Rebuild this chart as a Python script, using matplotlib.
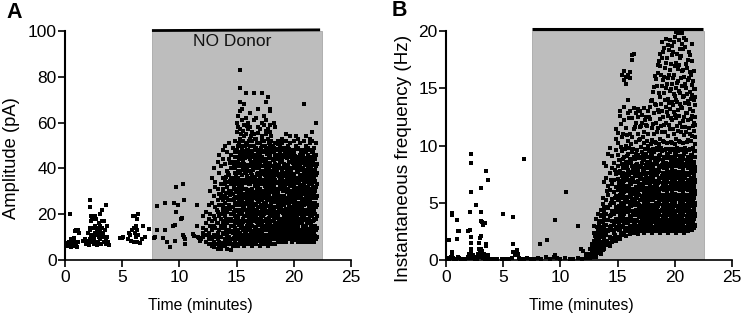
import matplotlib
matplotlib.use('Agg')
import matplotlib.pyplot as plt

plt.rcParams['font.family'] = ['Liberation Sans', 'DejaVu Sans']

# panel A, sparse part before the burst
amp_early_t = [0.1,0.2,0.25,0.3,0.35,0.4,0.45,0.5,0.55,0.6,0.65,0.7,0.75,0.8,0.85,0.9,0.95,1.0,1.05,1.1,1.15,1.25,0.45,
               1.6,1.75,1.85,1.9,2.0,2.05,2.1,2.15,2.2,2.2,2.25,2.3,2.35,2.4,2.45,2.5,2.55,2.55,2.6,2.65,2.65,2.7,2.75,2.8,2.8,2.85,2.9,2.9,2.95,3.0,3.0,3.05,3.1,3.1,3.15,3.2,3.2,3.25,3.3,3.35,3.4,3.5,3.55,3.6,3.7,3.8,3.85,
               2.15,2.2,2.25,2.4,2.6,3.1,3.2,3.45,3.55,3.65,
               4.8,5.0,5.1,5.5,5.6,5.7,5.8,5.9,5.95,6.0,6.05,6.1,6.15,6.2,6.2,6.25,6.3,6.3,6.35,6.4,6.55,6.7,6.8,7.0,7.3,
               7.8,7.9,8.0,8.0,8.6,8.7,8.7,8.9,9.2,9.4,9.5,9.6,9.6,9.7,9.7,9.9,10.1,10.2,10.3,10.3,10.4,10.4,10.5,10.5,11.2,11.5,11.55,11.6,11.7,11.3,11.8,11.9]
amp_early_v = [6.5,7,6,7.5,8,7,6,9,5.5,8.5,8,7,9.5,6,12.5,8,7,13,5.5,8,13,12,20,
               8.5,9,7,8.5,8,12,6.5,13,9,14,11,17,8,10,11,7,9,14,12,8,15,11,18,6.5,13,11,14,8,10,12,16,9,13,15,7,11,14,17,10,12,8,13,7,9,10,8,6.5,
               23,26,19,18,19,20,22,17,24,15,
               9.5,9.8,10,9,12,11,8.5,13,19,8,14,12,19,10,15,8,13,18,20,11,7.5,9,15,10,13.5,
               9.5,10,13,23.5,9.8,13,25,8,5.5,15,25,8.5,15.5,21,32,24,18,18.5,33,11,26,10,9,7,11.5,24,15,10,9.5,10.5,8.5,9]

# panel A, dense part: one list of amplitudes per time column
amp_cols_t = [12.1,12.35,12.55,12.7,12.85,13.0,13.15,13.35,13.5,13.65,13.85,14.0,14.15,14.35,14.5,14.65,14.85,15.0,15.15,15.3,15.5,15.65,15.85,16.0,16.2,16.35,16.55,16.7,16.9,17.05,17.2,17.4,17.55,17.75,17.9,18.05,18.25,18.4,18.6,18.75,18.95,19.1,19.3,19.45,19.65,19.8,20.0,20.15,20.35,20.5,20.7,20.85,21.05,21.2,21.4,21.55,21.75,21.9,22.0]
amp_cols_v = [
 [10,14,19,12],
 [8,13,16,21,11],
 [9,12,7,18,24],
 [7,10,15,20,30],
 [6,9,13,17,25,36],
 [8,5.5,11,15,19,28,40],
 [7,10,14,18,23,32,34],
 [5,9,12,16,21,26,31,43],
 [6,8,13,19,24,29,38,46],
 [5,10,15,20,27,33,41],
 [7,12,17,22,30,36,44,48],
 [6,9,14,19,25,28,35,42,50],
 [5,11,16,21,27,32,39,47],
 [7,10,13,18,24,30,37,44,51],
 [4.5,9,15,20,26,33,40,46],
 [6,12,17,23,29,35,43,49],
 [8,11,14,19,25,31,38,45,52],
 [7,10,16,22,27,34,41,48,56,60],
 [6,9,13,18,24,30,36,43,50,58,63],
 [8,12,17,21,28,33,39,46,53,57,65,69,75,83],
 [7,11,15,20,26,32,37,44,49,61,66],
 [6,10,14,19,23,29,35,42,47,54,59,68],
 [9,12,17,22,27,31,38,45,51,55,62,73],
 [7,11,16,20,25,30,36,41,48,57,60],
 [8,13,18,23,28,33,39,44,50,53,64,58],
 [6,10,15,21,26,31,37,43,47,52,56],
 [8,12,17,22,27,34,40,46,50,55,61,73],
 [7,11,14,19,24,29,35,41,49,53,62],
 [9,13,18,23,28,32,38,44,48,58,66],
 [6,10,16,21,26,31,36,42,46,51,57],
 [8,12,17,22,27,33,39,45,50,54,60,73],
 [7,11,15,20,25,30,35,41,47,52,59,63],
 [9,13,18,24,28,34,38,44,49,55,61,69],
 [6,10,16,21,26,31,37,42,48,53,57,71],
 [8,12,17,22,27,32,39,45,50,56,59,65,66],
 [7,11,15,20,25,30,36,41,47,52,54],
 [9,14,18,23,28,33,38,44,49,60],
 [7,12,16,21,26,31,37,42,46,51,58],
 [8,11,15,20,25,29,34,40,45,48,52],
 [10,13,18,23,27,32,36,43,47,50],
 [8,12,16,21,26,31,35,39,44,51,53],
 [9,14,19,24,28,33,38,42,46,49],
 [8,11,15,20,25,30,34,40,45,52,55],
 [10,13,17,22,27,31,36,41,47,50],
 [9,12,18,23,28,33,38,43,48,54,51],
 [8,11,16,21,26,30,35,40,44,46],
 [10,14,19,24,28,32,37,42,47,52],
 [9,12,17,22,27,31,36,41,45,50,54],
 [8,11,15,20,25,30,34,39,44,49,53],
 [10,13,18,23,27,32,37,41,46,51],
 [8,12,16,21,26,31,35,40,45,48],
 [9,14,19,24,29,33,38,43,47,52,68],
 [8,11,15,20,25,30,34,39,44,50,54],
 [10,13,18,22,27,32,37,41,46,49],
 [8,12,16,21,26,31,35,40,45,51,53],
 [9,14,19,23,28,33,38,42,47,52,56],
 [8,11,15,20,25,29,34,39,44,49],
 [9,13,18,23,27,32,37,41,46,51,60],
 [10,14,19,24,28,33,38,42],
]

# panel A, more events between the columns above
amp_fill_t = [13.25,13.6,13.95,14.25,14.55,14.75,14.95,15.08,15.25,15.42,15.58,15.75,15.95,16.1,16.28,16.45,16.62,16.8,16.98,17.12,17.3,17.48,17.65,17.82,18.0,18.15,18.32,18.5,18.68,18.85,19.02,19.2,19.38,19.55,19.72,19.9,20.08,20.25,20.42,20.6,20.78,20.95,21.12,21.3,21.48,21.65,21.82]
amp_fill_v = [
 [11,16,22],
 [7.5,14,18,24,29],
 [8,15.5,21,27,33],
 [8.5,13,22.5,26,34,38],
 [7,12.5,18,23,30,36],
 [9.5,15,21,26.5,32,41],
 [6.5,13,18.5,24,29.5,36.5,43],
 [12,19,25,31,39,45],
 [9,15.5,22,27,35,41,47],
 [10,14,24,30,35,42,50,55],
 [9,13,18,23.5,29,34.5,41,46,52],
 [8,12.5,17,25,31,38.5,44.5,50],
 [10.5,15,20,24.5,29,35,41.5,48],
 [9,13.5,18,23,27.5,33,39,45,52],
 [11,15.5,20.5,25,30.5,35.5,41,47.5],
 [8.5,12.5,18,23.5,28.5,34,39.5,45,50],
 [10,14.5,19.5,24.5,29.5,36,42,48],
 [9,12.5,16.5,21.5,26.5,31.5,37.5,43,51],
 [11,15.5,20.5,25.5,30,34.5,40.5,46],
 [8,12.5,18.5,23.5,28.5,33,38.5,44,49],
 [10,14.5,19.5,24,29,35,41,47,52],
 [9,13,17,22.5,27,32.5,37,43,50],
 [11,15.5,20.5,26,30,35.5,40.5,46.5],
 [8,13.5,18.5,23.5,28.5,33.5,39.5,44.5,51],
 [10,14,19,24,29.5,34.5,41,48],
 [9,12.5,17,22,26.5,31.5,37.5,43.5,50],
 [11,15.5,20,25.5,30.5,35,40,45.5],
 [9.5,13.5,18.5,23,28,33.5,38.5,44,48.5],
 [11,16.5,21.5,26.5,31,36.5,41.5,46],
 [9,13.5,17.5,22.5,28,33.5,37.5,43],
 [10.5,15,20.5,25.5,30,34.5,40,45.5],
 [9,13,17.5,22,27,32,36.5,41.5,47],
 [11,15.5,20,25,29.5,35,39.5,44.5],
 [9.5,13.5,18.5,23.5,28.5,33,38,43,48.5],
 [10.5,14.5,20,25.5,30,34.5,39,45],
 [9,13,17.5,22.5,27.5,32.5,37.5,42.5,48],
 [11.5,15.5,21,25.5,30.5,35,40,45.5],
 [9.5,13.5,18.5,23,28,33.5,38.5,43.5,49],
 [11,16,20.5,24.5,29.5,34.5,39.5,44],
 [9,13,17.5,22.5,27.5,32.5,36.5,42.5,47.5],
 [10.5,15,20,25,30,35,40,45.5],
 [9,12.5,17.5,22,26.5,31.5,36.5,41.5,48],
 [11,16,21,25.5,30.5,34.5,39.5,44.5],
 [9.5,13.5,18,23.5,28.5,33.5,38.5,43],
 [11,15.5,20.5,25,29.5,35,40,45],
 [9,12.5,17,22.5,27,31.5,36.5,42.5,47.5],
 [10.5,15,20,25,30,34.5,39.5,44],
]

# panel A, further events to close the gaps in the dense band
amp_gap_t = [13.8,14.1,14.45,14.85,15.2,15.52,15.9,16.22,16.58,16.88,17.22,17.58,17.92,18.28,18.62,18.98,19.32,19.68,20.02,20.38,20.72,21.08,21.42,21.78]
amp_gap_v = [
 [6.2,11.2,16.3,23.1,26.4,31.2],
 [7.3,12.4,17.6,22.7,29.3,36.4],
 [8.4,12.1,17.2,22.2,28.2,34.7,42.3],
 [6.3,12.6,16.7,21.6,27.3,33.4,35.6,40.2,47.2],
 [7.2,11.3,15.6,20.4,25.6,28.7,32.2,37.8,41.3,44.7,51.2],
 [8.7,10.2,13.4,16.6,21.7,24.3,27.8,33.6,39.4,43.3,47.7,56.3],
 [7.8,10.6,14.3,19.3,21.6,26.2,30.4,33.7,36.6,40.3,46.3,50.2,58.4],
 [9.3,11.7,16.4,19.2,22.3,26.7,29.3,34.8,38.2,42.2,46.6,54.3],
 [7.3,10.3,13.7,18.7,21.2,24.2,28.3,32.4,36.2,42.7,44.6,48.7,52.8],
 [8.3,11.8,15.3,17.7,20.3,25.3,28.2,33.6,37.3,40.2,43.7,46.2,55.3],
 [9.4,13.6,16.2,19.3,23.4,26.3,30.2,34.3,37.7,43.3,47.4,52.2],
 [7.6,10.8,14.2,17.3,21.3,24.6,29.2,31.8,36.7,39.6,42.3,47.6,56.2],
 [8.7,12.3,15.8,19.7,22.8,26.2,31.2,33.8,37.2,42.2,46.3,51.3],
 [9.2,11.4,14.3,18.3,21.2,25.2,28.7,32.7,36.3,39.3,43.7,47.3],
 [8.3,12.2,16.3,19.3,23.6,26.6,30.3,34.2,37.4,41.2,44.2,50.7],
 [9.6,10.7,14.7,17.2,21.3,24.7,27.4,31.7,36.2,39.6,43.3,48.2],
 [8.2,11.7,16.7,19.4,22.3,26.3,30.3,33.2,37.4,40.6,45.3,48.7],
 [9.3,12.7,15.3,18.6,21.6,26.7,29.3,32.3,36.4,39.2,42.7,46.3],
 [8.6,12.2,16.4,19.2,22.6,25.7,29.2,33.7,36.2,40.6,43.7,47.7],
 [9.2,11.4,14.7,17.6,21.6,24.3,28.6,31.3,35.7,38.4,42.6,48.3],
 [8.4,12.7,16.6,19.3,22.4,26.4,29.3,32.6,36.7,39.4,43.4,46.6],
 [9.7,11.3,14.3,17.3,21.4,24.4,28.2,31.7,35.6,38.3,42.2,47.4],
 [8.3,12.3,16.3,19.6,22.7,26.3,29.6,33.2,36.3,39.7,43.6,48.2],
 [9.4,11.6,13.7,17.6,21.3,24.6,28.3,31.2,35.3,38.2,41.7,45.3],
]

# panel B, sparse part before the burst
freq_early_t = [0.05,0.2,0.3,0.4,0.5,0.55,0.6,0.7,0.85,1.05,1.1,1.3,1.5,1.7,1.9,2.0,2.05,2.1,2.15,2.2,2.25,2.3,2.4,2.5,2.6,2.7,2.8,2.85,2.9,2.95,3.0,3.05,3.1,3.15,3.2,3.3,3.4,3.5,3.6,3.7,3.9,4.2,4.5,4.9,5.2,5.5,5.8,5.9,6.0,6.1,6.2,6.3,6.35,6.5,6.8,7.1,7.4,7.7,8.0,8.3,8.7,9.1,9.4,9.5,9.7,10.0,10.4,10.8,11.1,11.5,11.9,12.2,
                0.5,0.55,0.3,1.0,1.05,1.1,0.95,1.95,2.1,2.2,2.2,2.15,2.1,2.65,3.05,3.5,3.7,3.05,3.05,3.15,3.2,3.4,3.5,3.5,2.2,2.2,2.9,3.0,3.1,5.0,5.9,5.9,6.8,8.2,8.8,9.5,10.5,11.5,11.8,12.0,12.2]
freq_early_v = [0.1,0.2,0.1,0.3,0.7,0.5,0.2,0.1,0.1,0.3,0.2,0.1,0.1,0.1,0.3,0.2,0.5,0.3,0.7,1.0,0.4,0.2,0.4,0.1,0.3,0.1,0.5,1.0,0.3,0.9,0.6,1.0,0.4,0.8,0.2,0.5,0.1,0.3,0.1,0.4,0.1,0.1,0.1,0.1,0.1,0.1,0.2,0.7,0.4,0.6,0.9,0.5,0.2,0.1,0.1,0.2,0.1,0.1,0.2,0.1,0.3,0.1,0.3,0.4,0.2,0.1,0.2,0.1,0.1,0.2,0.1,0.2,
                4.1,3.9,1.75,3.5,2.5,2.5,1.8,2.5,2.6,9.3,8.5,5.9,4.2,4.8,6.3,7.75,7.0,4.2,3.4,3.3,3.1,3.2,1.4,1.2,2.0,1.5,1.5,1.9,2.1,4.05,3.75,1.4,8.8,1.4,1.75,3.5,5.95,2.95,1.0,0.8,0.5]

# panel B, dense part: one list of frequencies per time column
freq_cols_t = [12.6,12.8,12.95,13.1,13.25,13.4,13.55,13.7,13.85,14.0,14.2,14.35,14.5,14.65,14.85,15.0,15.2,15.35,15.55,15.7,15.9,16.05,16.25,16.4,16.6,16.75,16.95,17.1,17.3,17.45,17.65,17.8,18.0,18.15,18.35,18.5,18.7,18.85,19.05,19.2,19.4,19.55,19.75,19.9,20.1,20.25,20.45,20.6,20.8,20.95,21.15,21.3,21.5,21.65,21.8]
freq_cols_v = [
 [0.2,0.5,1.0],
 [0.3,0.8,1.4,1.1],
 [0.4,1.0,1.7,2.4,3.0],
 [0.3,0.7,1.3,2.0,3.6],
 [0.6,1.1,1.8,2.6,4.0],
 [0.8,1.4,2.2,3.1,3.4],
 [0.5,1.2,2.0,2.9,3.8,4.4],
 [0.9,1.6,2.5,3.4,4.9,5.4],
 [1.0,1.9,2.8,3.7,4.6,6.8,8.5],
 [1.3,2.2,3.1,4.0,5.2,7.2,8.2],
 [1.5,2.5,3.5,4.5,5.7,6.5,9.3],
 [1.2,2.0,2.9,3.8,4.8,6.1,7.6,9.8],
 [1.6,2.6,3.4,4.3,5.3,6.6,8.0,9.1],
 [1.9,2.4,3.1,4.0,5.0,5.9,7.0,8.5],
 [1.7,2.7,3.6,4.6,5.6,6.4,7.5,9.6,11.4,10.6],
 [2.0,2.9,3.3,4.2,5.2,6.1,7.1,8.2,9.2,10.2,11.1],
 [1.8,2.6,3.8,4.7,5.7,6.7,7.8,8.7,12.6,13.0],
 [2.2,3.0,3.5,4.4,5.4,6.3,7.3,8.4,9.5,10.7,16.2],
 [2.4,3.2,4.0,4.9,5.9,6.9,8.0,9.0,12.2,13.4,16.5,15.7],
 [2.1,2.8,3.6,4.5,5.5,6.5,7.5,8.6,10.0,11.5,16.0,15.4],
 [2.5,3.3,4.2,5.1,6.0,7.0,7.9,9.3,10.4,12.8,14.0,16.2],
 [2.3,3.0,3.8,4.7,5.7,6.7,7.7,8.8,11.0,13.0,15.9,16.4],
 [2.7,3.4,4.3,5.3,6.2,7.2,8.2,9.4,10.7,12.4,17.9,17.5],
 [2.4,3.1,3.9,4.9,5.8,6.8,7.8,9.0,11.4,13.3,18.0],
 [2.6,3.5,4.4,5.4,6.4,7.3,8.3,9.3,10.3,12.0,12.8],
 [2.3,3.0,4.0,5.0,5.9,6.9,7.9,9.2,11.0,13.2,12.5],
 [2.5,3.3,4.2,5.2,6.1,7.1,8.1,9.0,10.6,11.6,13.0],
 [2.8,3.6,4.6,5.5,6.5,7.5,8.5,9.4,12.0,12.7],
 [2.4,3.1,4.0,4.9,5.9,6.8,7.8,8.9,10.2,11.2,13.3],
 [2.7,3.5,4.4,5.3,6.3,7.3,8.3,9.3,11.8,12.5],
 [2.5,3.2,4.1,5.0,6.0,7.0,8.0,9.0,10.0,11.0,13.0],
 [2.8,3.7,4.6,5.6,6.6,7.6,8.6,9.5,12.3,13.4],
 [2.4,3.3,4.2,5.2,6.1,7.1,8.1,9.2,10.5,11.5,14.0],
 [2.7,3.6,4.5,5.4,6.4,7.4,8.4,9.4,11.0,12.8,15.1],
 [2.5,3.2,4.0,5.0,6.0,6.9,7.9,8.9,10.2,12.0,13.5,15.8],
 [2.8,3.7,4.7,5.7,6.7,7.7,8.7,9.6,11.5,13.1,16.3,17.0],
 [2.4,3.3,4.3,5.2,6.2,7.2,8.2,9.2,10.6,12.3,14.2,16.9,18.0],
 [2.7,3.5,4.4,5.4,6.3,7.3,8.3,9.5,11.2,13.0,15.2,17.6,19.0],
 [2.5,3.2,4.1,5.1,6.1,7.0,8.0,9.0,10.3,11.8,14.6,16.0,18.5],
 [2.8,3.6,4.6,5.5,6.5,7.5,8.5,9.7,12.0,13.4,15.0,17.2,19.3],
 [2.4,3.3,4.2,5.2,6.2,7.2,8.2,9.1,10.8,12.6,14.1,15.9,18.8],
 [2.7,3.5,4.5,5.4,6.4,7.4,8.4,9.4,11.4,13.2,14.8,16.6,19.2],
 [2.5,3.2,4.1,5.1,6.0,7.0,8.0,9.0,10.2,12.2,13.8,15.4,17.9,18.7],
 [2.8,3.7,4.7,5.6,6.6,7.6,8.6,9.6,11.0,12.9,14.5,16.2,19.0],
 [2.4,3.3,4.3,5.3,6.2,7.2,8.2,9.2,10.6,12.4,14.0,15.0,17.2,19.9],
 [2.7,3.6,4.5,5.5,6.5,7.5,8.5,9.5,11.3,13.1,15.6,16.7,19.8],
 [2.5,3.2,4.2,5.1,6.1,7.1,8.1,9.1,10.3,12.0,13.6,14.6,17.6,18.4],
 [2.8,3.7,4.6,5.6,6.6,7.6,8.6,9.6,11.6,13.3,15.2,16.5,18.9,19.8],
 [2.4,3.3,4.3,5.2,6.2,7.2,8.2,9.3,10.9,12.5,14.3,16.0,19.4],
 [2.7,3.5,4.5,5.5,6.4,7.4,8.4,9.4,11.2,12.8,15.0,17.1,19.2],
 [2.5,3.2,4.1,5.1,6.1,7.0,8.0,9.0,10.5,12.2,13.9,15.7,17.5],
 [2.9,3.7,4.7,5.6,6.6,7.6,8.6,9.7,11.0,13.2,14.7,16.4,17.9],
 [2.6,3.3,4.2,5.2,6.2,7.2,8.2,9.2,10.8,12.6,14.4,15.3,17.4,18.9],
 [2.8,3.6,4.4,5.4,6.4,7.3,8.3,9.5,11.3,12.0,14.0,14.9,16.5],
 [3.0,3.8,4.8,5.8,6.8,7.8,9.0,10.1,11.8,13.5,14.9],
]

# panel B, more events between the columns above
freq_fill_t = [12.9,13.05,13.2,13.35,13.5,13.65,13.8,14.1,14.42,14.75,15.1,15.28,15.45,15.62,15.8,15.98,16.15,16.32,16.5,16.68,16.85,17.02,17.2,17.38,17.55,17.72,17.9,18.08,18.25,18.42,18.6,18.78,18.95,19.12,19.3,19.48,19.65,19.82,20.0,20.18,20.35,20.52,20.7,20.88,21.05,21.22,21.4,21.58,21.75]
freq_fill_v = [
 [0.7,1.3],
 [0.5,1.5,2.1],
 [0.9,1.5,2.3,2.9],
 [0.6,1.8,2.6],
 [0.9,1.6,2.4,3.3],
 [1.2,2.0,2.8,3.9],
 [1.4,2.3,3.1,4.3],
 [1.7,2.6,3.5,4.6,6.0],
 [1.9,3.0,3.9,5.0,7.0],
 [2.2,3.3,4.3,5.4,7.9],
 [2.6,3.6,4.7,5.6,6.5,7.6,8.7],
 [2.4,3.4,4.1,5.0,5.9,6.9,9.9,11.9],
 [2.9,3.8,4.6,5.6,6.6,7.6,8.8,11.0],
 [2.6,3.2,4.2,5.2,6.2,7.0,8.3,9.7],
 [2.8,3.6,4.5,5.4,6.4,7.3,8.3,10.9],
 [2.7,3.4,4.5,5.5,6.4,7.4,8.5,9.8,12.4],
 [2.9,3.8,4.7,5.6,6.6,7.6,8.7,10.1],
 [2.6,3.5,4.2,5.1,6.1,7.0,8.0,9.7],
 [2.9,3.9,4.8,5.8,6.8,7.8,8.8,11.6],
 [2.7,3.4,4.4,5.4,6.3,7.4,8.4,9.6],
 [3.0,3.8,4.8,5.7,6.6,7.5,8.9,10.5],
 [2.6,3.3,4.2,5.2,6.2,7.2,8.2,9.9,11.7],
 [3.0,3.8,4.7,5.6,6.6,7.6,8.7,10.7],
 [2.7,3.4,4.3,5.2,6.2,7.1,8.0,9.7,12.2],
 [2.9,3.8,4.7,5.7,6.7,7.6,8.6,10.4,11.7],
 [2.6,3.5,4.4,5.3,6.3,7.2,8.2,9.6,12.5],
 [3.0,3.9,4.8,5.8,6.8,7.8,8.9,10.1,13.9],
 [2.7,3.4,4.3,5.3,6.2,7.2,8.2,9.7,11.9,14.7],
 [2.9,3.8,4.8,5.7,6.7,7.6,8.7,10.3,13.6,16.1],
 [2.6,3.5,4.4,5.4,6.4,7.4,8.4,9.8,11.2,15.2],
 [3.0,3.9,4.9,5.8,6.8,7.8,8.8,10.1,12.9,14.6,17.4],
 [2.7,3.4,4.3,5.3,6.2,7.2,8.1,9.8,11.7,13.6,16.2],
 [3.0,3.8,4.8,5.7,6.7,7.6,8.7,10.4,12.5,15.7,18.2],
 [2.6,3.5,4.4,5.4,6.3,7.3,8.3,9.6,11.2,14.0,16.8],
 [2.9,3.9,4.8,5.8,6.8,7.8,8.9,10.2,12.9,15.4,17.6],
 [2.7,3.4,4.3,5.3,6.2,7.2,8.2,9.7,11.8,13.7,16.2,18.3],
 [3.0,3.8,4.8,5.7,6.7,7.7,8.7,10.3,12.4,14.9,17.1],
 [2.6,3.5,4.4,5.4,6.4,7.3,8.3,9.7,11.4,13.5,15.9,18.2],
 [2.9,3.9,4.9,5.8,6.8,7.8,8.8,10.1,12.7,14.3,16.9,19.5],
 [2.7,3.4,4.3,5.3,6.2,7.2,8.2,9.8,11.7,13.8,15.5,18.0],
 [3.0,3.8,4.7,5.7,6.7,7.7,8.7,10.4,12.6,14.8,17.0,19.2],
 [2.6,3.5,4.4,5.4,6.4,7.4,8.4,9.7,11.2,13.4,15.9,17.8],
 [3.0,3.9,4.8,5.8,6.7,7.7,8.8,10.2,12.1,14.2,16.6,18.4],
 [2.7,3.4,4.3,5.3,6.3,7.3,8.2,9.8,11.6,13.7,15.4,18.6],
 [2.9,3.8,4.8,5.7,6.7,7.6,8.7,10.3,12.8,14.5,16.8],
 [2.7,3.5,4.4,5.4,6.4,7.4,8.3,9.6,11.5,13.6,15.9,18.2],
 [3.0,3.9,4.9,5.8,6.8,7.8,8.9,10.4,12.3,14.1,16.2],
 [2.8,3.4,4.3,5.3,6.3,7.2,8.2,9.8,11.7,13.0,15.6],
 [3.1,4.0,5.0,6.0,7.0,8.1,9.5,10.7,12.5,14.2],
]

# panel B, further events to close the gaps in the dense band
freq_gap_t = [15.12,15.48,15.82,16.18,16.52,16.88,17.22,17.58,17.92,18.28,18.62,18.98,19.32,19.68,20.02,20.38,20.72,21.08,21.42,21.72]
freq_gap_v = [
 [3.15,4.35,5.25,6.85,7.65],
 [2.85,3.95,4.95,6.05,7.25,8.05],
 [3.25,4.35,5.15,6.25,7.15,8.15,9.05],
 [2.65,3.65,4.95,5.95,6.95,8.45],
 [3.35,4.15,5.05,6.05,7.45,8.05,8.95],
 [2.85,3.75,4.55,6.55,7.35,8.25],
 [3.15,4.25,5.35,6.35,7.05,7.95,9.15],
 [2.95,3.65,4.85,5.55,6.95,8.45],
 [3.25,4.15,5.25,6.25,7.25,8.05,9.25],
 [2.85,3.55,4.65,5.95,6.85,7.75,8.95],
 [3.25,4.25,5.15,6.15,7.05,8.05,9.05],
 [2.95,3.75,4.65,5.45,6.55,7.45,8.65],
 [3.15,4.05,5.05,6.05,7.05,8.05,9.25],
 [2.85,3.65,4.55,5.45,6.55,7.45,8.55],
 [3.25,4.25,5.25,6.25,7.25,8.35,9.35],
 [2.95,3.75,4.65,5.65,6.55,7.55,8.55],
 [3.15,4.05,5.05,6.15,7.05,8.05,9.05],
 [2.85,3.65,4.65,5.45,6.45,7.45,8.45],
 [3.25,4.25,5.15,6.15,7.15,8.05,9.15],
 [3.05,3.75,4.65,5.55,6.55,7.55,8.55],
]

bar_a = [7.6, 22.3]
bar_b = [7.5, 22.5]
shade_a = [7.6, 22.45]
shade_b = [7.5, 22.55]


def flatten(ts, cols):
    xs, ys = [], []
    for t, col in zip(ts, cols):
        for v in col:
            xs.append(t)
            ys.append(v)
    return xs, ys


def dots(ax, x, y):
    ax.scatter(x, y, marker='s', s=7, color='black', linewidths=0, clip_on=False, zorder=3)


def style(ax, ymax, yticks):
    ax.set_xlim(0, 25)
    ax.set_ylim(0, ymax)
    ax.set_xticks([0, 5, 10, 15, 20, 25])
    ax.set_yticks(yticks)
    ax.spines['top'].set_visible(False)
    ax.spines['right'].set_visible(False)
    ax.spines['left'].set_linewidth(1.5)
    ax.spines['bottom'].set_linewidth(1.2)
    ax.tick_params(axis='x', length=5, width=1.2, labelsize=12.5, pad=2)
    ax.tick_params(axis='y', length=5, width=1.2, labelsize=12.5, pad=1)
    ax.set_xlabel('Time (minutes)', fontsize=11.3, labelpad=8)
    ax.xaxis.set_label_coords(0.472, -0.165)


fig = plt.figure(figsize=(7.42, 3.14), dpi=100)
ax1 = fig.add_axes([65 / 742, 1 - 260 / 314, 286 / 742, 229 / 314])
ax2 = fig.add_axes([446 / 742, 1 - 260 / 314, 286 / 742, 229 / 314])

ax1.axvspan(shade_a[0], shade_a[1], facecolor='#bdbdbd', edgecolor='#a8a8a8', linewidth=0.6, zorder=0)
dots(ax1, amp_early_t, amp_early_v)
dots(ax1, *flatten(amp_cols_t, amp_cols_v))
dots(ax1, *flatten(amp_fill_t, amp_fill_v))
dots(ax1, *flatten(amp_gap_t, amp_gap_v))
ax1.plot(bar_a, [100.2, 100.5], color='black', lw=2, clip_on=False, solid_capstyle='butt', zorder=4)
ax1.text(14.6, 95.5, 'NO Donor', fontsize=12.5, ha='center', va='center', color='#111111')
style(ax1, 100, [0, 20, 40, 60, 80, 100])
ax1.set_ylabel('Amplitude (pA)', fontsize=13.2)
ax1.yaxis.set_label_coords(-0.159, 0.445)

ax2.axvspan(shade_b[0], shade_b[1], facecolor='#bdbdbd', edgecolor='#a8a8a8', linewidth=0.6, zorder=0)
dots(ax2, freq_early_t, freq_early_v)
dots(ax2, *flatten(freq_cols_t, freq_cols_v))
dots(ax2, *flatten(freq_fill_t, freq_fill_v))
dots(ax2, *flatten(freq_gap_t, freq_gap_v))
ax2.plot(bar_b, [20.2, 20.2], color='black', lw=2.2, clip_on=False, solid_capstyle='butt', zorder=4)
style(ax2, 20, [0, 5, 10, 15, 20])
ax2.set_ylabel('Instantaneous frequency (Hz)', fontsize=13.6)
ax2.yaxis.set_label_coords(-0.12, 0.445)

fig.text(6 / 742, 1 - 12 / 314, 'A', fontsize=15.5, fontweight='bold', va='center')
fig.text(392 / 742, 1 - 11 / 314, 'B', fontsize=15.5, fontweight='bold', va='center')

fig.savefig('out.png', dpi=100)
